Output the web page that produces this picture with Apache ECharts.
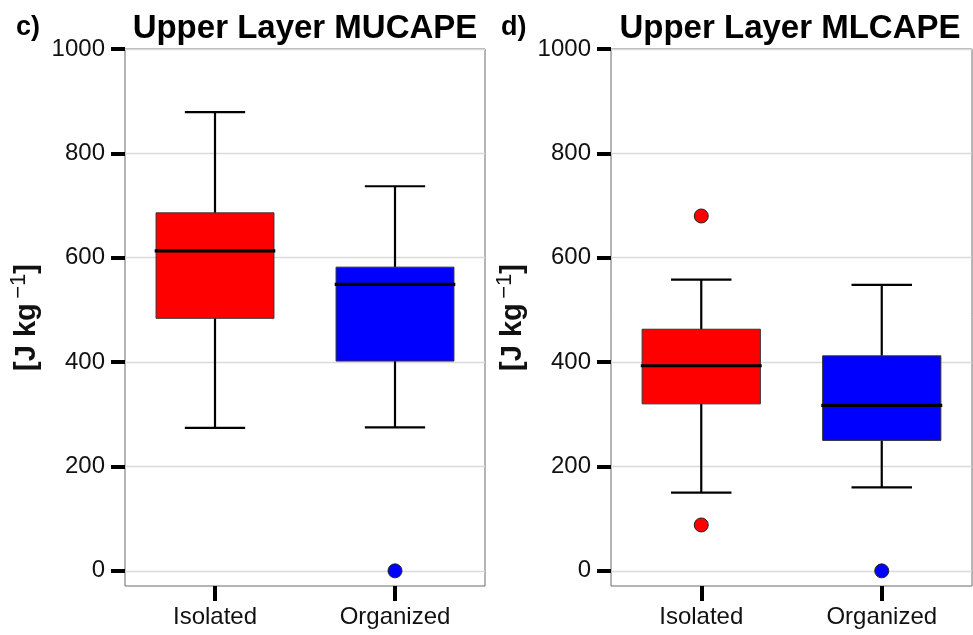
<!DOCTYPE html>
<html>
<head>
<meta charset="utf-8">
<script src="https://cdn.jsdelivr.net/npm/echarts@6/dist/echarts.min.js"></script>
<style>
  html, body { margin: 0; padding: 0; background: #fff; }
  #chart { width: 973px; height: 635px; }
</style>
</head>
<body>
<div id="chart"></div>
<script>
// Storm categories shared by both panels
const categories = ['Isolated', 'Organized'];

// Box statistics per category: [lower whisker, Q1, median, Q3, upper whisker]
const mucapeStats = [
  [274, 484, 613, 686, 879],
  [275, 402, 549, 582, 737]
];
// Outliers as [category index, value]
const mucapeOutliers = [
  [1, 0]
];

const mlcapeStats = [
  [150, 320, 393, 463, 558],
  [160, 250, 317, 412, 548]
];
const mlcapeOutliers = [
  [0, 680],
  [0, 88],
  [1, 0]
];

const yTicks = [0, 200, 400, 600, 800, 1000];
const boxColors = ['#ff0000', '#0000ff'];

const panelTitles = ['Upper Layer MUCAPE', 'Upper Layer MLCAPE'];
const panelTags = ['c)', 'd)'];

const FONT = '"Liberation Sans", Arial, Helvetica, sans-serif';

function renderBox(params, api) {
  const cat = api.value(0);
  const lo = api.value(1), q1 = api.value(2), med = api.value(3), q3 = api.value(4), hi = api.value(5);
  const band = api.size([1, 0])[0];
  const cx = api.coord([cat, med])[0];
  const yLo = api.coord([cat, lo])[1];
  const yQ1 = api.coord([cat, q1])[1];
  const yMed = api.coord([cat, med])[1];
  const yQ3 = api.coord([cat, q3])[1];
  const yHi = api.coord([cat, hi])[1];
  const boxW = band * 0.655;
  const capW = band * 0.335;
  const medW = band * 0.67;
  const whisker = { stroke: '#000', lineWidth: 2.2 };
  return {
    type: 'group',
    children: [
      { type: 'line', shape: { x1: cx, y1: yHi, x2: cx, y2: yQ3 }, style: whisker },
      { type: 'line', shape: { x1: cx, y1: yQ1, x2: cx, y2: yLo }, style: whisker },
      { type: 'line', shape: { x1: cx - capW / 2, y1: yHi, x2: cx + capW / 2, y2: yHi }, style: whisker },
      { type: 'line', shape: { x1: cx - capW / 2, y1: yLo, x2: cx + capW / 2, y2: yLo }, style: whisker },
      {
        type: 'rect',
        shape: { x: cx - boxW / 2, y: yQ3, width: boxW, height: yQ1 - yQ3 },
        style: { fill: boxColors[cat], stroke: '#333', lineWidth: 1 }
      },
      { type: 'line', shape: { x1: cx - medW / 2, y1: yMed, x2: cx + medW / 2, y2: yMed }, style: { stroke: '#000', lineWidth: 3.2 } }
    ]
  };
}

const grids = [
  { left: 125, top: 49, width: 360, height: 537 },
  { left: 611, top: 49, width: 361, height: 537 }
];

function xAxisFor(i) {
  return {
    type: 'category', gridIndex: i, data: categories,
    boundaryGap: true,
    axisLine: { show: false, onZero: false },
    axisTick: { show: true, alignWithLabel: true, length: 15, inside: false, lineStyle: { color: '#000', width: 4 } },
    axisLabel: { fontFamily: FONT, fontSize: 24, color: '#111', margin: 19 },
    splitLine: { show: false }
  };
}

function yAxisFor(i) {
  return {
    type: 'value', gridIndex: i, min: -29, max: 1000,
    axisLine: { show: false },
    axisTick: { show: true, length: 14, customValues: yTicks, lineStyle: { color: '#000', width: 4 } },
    axisLabel: { fontFamily: FONT, fontSize: 24, color: '#111', margin: 20, customValues: yTicks,
      formatter: v => String(v) },
    splitLine: { show: true, lineStyle: { color: '#d9d9d9', width: 1.3 } },
    name: '{a|[J kg}{s|\u2009\u22121}{a|]}',
    nameLocation: 'middle',
    nameGap: 79,
    nameRotate: 90,
    nameTextStyle: {
      rich: {
        a: { fontFamily: FONT, fontSize: 29, fontWeight: 'bold', color: '#111', lineHeight: 38 },
        s: { fontFamily: FONT, fontSize: 22, fontWeight: 'normal', color: '#111', verticalAlign: 'top', lineHeight: 20 }
      }
    }
  };
}

function boxData(stats) {
  return stats.map((s, i) => [i].concat(s));
}

function outlierData(list) {
  return list.map(p => ({ value: p, itemStyle: { color: boxColors[p[0]] } }));
}

const option = {
  backgroundColor: '#fff',
  animation: false,
  title: [
    { text: panelTitles[0], left: 305, top: 12, textAlign: 'center', padding: 0,
      textStyle: { fontFamily: FONT, fontSize: 33, fontWeight: 'bold', color: '#000' } },
    { text: panelTitles[1], left: 790, top: 12, textAlign: 'center', padding: 0,
      textStyle: { fontFamily: FONT, fontSize: 33, fontWeight: 'bold', color: '#000' } },
    { text: panelTags[0], left: 16, top: 14, padding: 0,
      textStyle: { fontFamily: FONT, fontSize: 27, fontWeight: 'bold', color: '#000' } },
    { text: panelTags[1], left: 501, top: 14, padding: 0,
      textStyle: { fontFamily: FONT, fontSize: 27, fontWeight: 'bold', color: '#000' } }
  ],
  grid: grids.map(g => Object.assign({ show: true, borderColor: '#6b6b6b', borderWidth: 1, backgroundColor: '#fff' }, g)),
  xAxis: [xAxisFor(0), xAxisFor(1)],
  yAxis: [yAxisFor(0), yAxisFor(1)],
  series: [
    {
      type: 'custom', xAxisIndex: 0, yAxisIndex: 0, z: 2,
      renderItem: renderBox,
      encode: { x: 0, y: [1, 2, 3, 4, 5] },
      data: boxData(mucapeStats)
    },
    {
      type: 'custom', xAxisIndex: 1, yAxisIndex: 1, z: 2,
      renderItem: renderBox,
      encode: { x: 0, y: [1, 2, 3, 4, 5] },
      data: boxData(mlcapeStats)
    },
    {
      type: 'scatter', xAxisIndex: 0, yAxisIndex: 0, z: 3,
      symbol: 'circle', symbolSize: 14,
      itemStyle: { borderColor: '#222', borderWidth: 1, opacity: 1 },
      data: outlierData(mucapeOutliers)
    },
    {
      type: 'scatter', xAxisIndex: 1, yAxisIndex: 1, z: 3,
      symbol: 'circle', symbolSize: 14,
      itemStyle: { borderColor: '#222', borderWidth: 1, opacity: 1 },
      data: outlierData(mlcapeOutliers)
    }
  ]
};

const chart = echarts.init(document.getElementById('chart'), null, { renderer: 'canvas' });
chart.setOption(option);
</script>
</body>
</html>
